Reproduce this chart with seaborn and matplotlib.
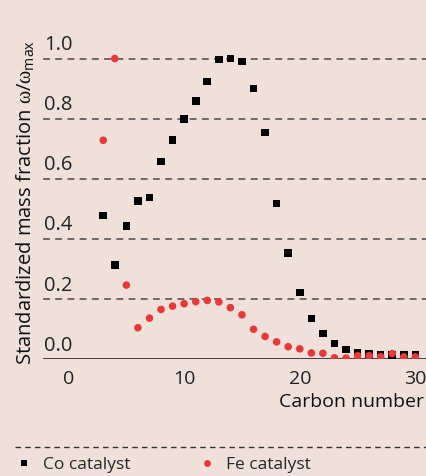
import pandas as pd
import matplotlib
matplotlib.use('Agg')
import matplotlib.pyplot as plt
import seaborn as sns
from matplotlib.lines import Line2D

# carbon numbers C3..C30
carbon = list(range(3, 31))

# standardized mass fraction
co_vals = [0.478, 0.312, 0.443, 0.525, 0.538, 0.658, 0.728, 0.799, 0.859, 0.924,
           0.997, 1.000, 0.990, 0.901, 0.754, 0.518, 0.352, 0.222, 0.135, 0.085,
           0.052, 0.032, 0.019, 0.016, 0.015, 0.013, 0.015, 0.015]
fe_vals = [0.728, 1.000, 0.246, 0.104, 0.136, 0.165, 0.176, 0.184, 0.191, 0.195,
           0.190, 0.171, 0.147, 0.099, 0.075, 0.057, 0.041, 0.034, 0.020, 0.019,
           0.004, 0.003, 0.011, 0.011, 0.008, 0.018, 0.007, 0.007]

series_names = ['Co catalyst', 'Fe catalyst']
y_ticks = [0.0, 0.2, 0.4, 0.6, 0.8, 1.0]
x_ticks = [0, 10, 20, 30]

bg = '#EFE1DA'
red = '#E8383A'

sns.set_style('white')
plt.rcParams['font.family'] = ['Open Sans', 'DejaVu Sans']
plt.rcParams['mathtext.fontset'] = 'custom'
plt.rcParams['mathtext.rm'] = 'Open Sans'
plt.rcParams['mathtext.it'] = 'Liberation Serif'

df = pd.DataFrame({
    'Carbon number': carbon * 2,
    'value': co_vals + fe_vals,
    'catalyst': [series_names[0]] * len(carbon) + [series_names[1]] * len(carbon),
})

fig = plt.figure(figsize=(4.26, 4.76), dpi=100, facecolor=bg)
ax = fig.add_axes([43 / 426, 117 / 476, 1 - 43 / 426, 359 / 476])
ax.set_facecolor(bg)

sns.scatterplot(data=df, x='Carbon number', y='value', hue='catalyst', style='catalyst',
                palette={'Co catalyst': 'black', 'Fe catalyst': red},
                markers={'Co catalyst': 's', 'Fe catalyst': 'o'},
                s=30, linewidth=0, ax=ax, zorder=3)

ax.set_xlim(-2.21, 30.92)
ax.set_ylim(0, 1.195)

# dashed grid lines and solid baseline
for v in y_ticks[1:]:
    ax.axhline(v, color='#4a4a4a', lw=1.1, ls=(0, (4.5, 3.5)), zorder=1)
ax.axhline(0, color='#222222', lw=1.2, zorder=2)

# y tick labels sit above their lines
ax.set_yticks([])
for v in y_ticks:
    ax.annotate(f'{v:.1f}', xy=(0, v), xycoords=('axes fraction', 'data'),
                xytext=(0.5, 6), textcoords='offset points',
                ha='left', va='baseline', fontsize=14.5, color='#222222')

ax.set_xticks(x_ticks)
ax.set_xticklabels([str(t) for t in x_ticks])
ax.tick_params(axis='x', length=0, pad=8, labelsize=14, labelcolor='#222222')
ax.set_xlabel('')
ax.set_ylabel('')
for s in ax.spines.values():
    s.set_visible(False)

fig.text(424 / 426, 1 - 402 / 476, 'Carbon number', ha='right', va='center',
         fontsize=14, color='#111111')
fig.text(25 / 426, 1 - 203 / 476, r'Standardized mass fraction $\omega/\omega_{\mathrm{max}}$',
         rotation=90, ha='center', va='center', fontsize=14.5, color='#111111')

# legend below, separated by a dashed rule
fig.add_artist(Line2D([15 / 426, 1], [1 - 446.7 / 476] * 2, transform=fig.transFigure,
                      color='#333333', lw=1, ls=(0, (4, 3))))
sns.move_legend(ax, 'center left', bbox_to_anchor=(0.0, 1 - 465 / 476),
                bbox_transform=fig.transFigure, ncol=2, frameon=False, title=None,
                fontsize=12.5, handletextpad=0.1, columnspacing=3.4,
                markerscale=0.9, borderaxespad=0)

fig.savefig('out.png', dpi=100, facecolor=bg)
